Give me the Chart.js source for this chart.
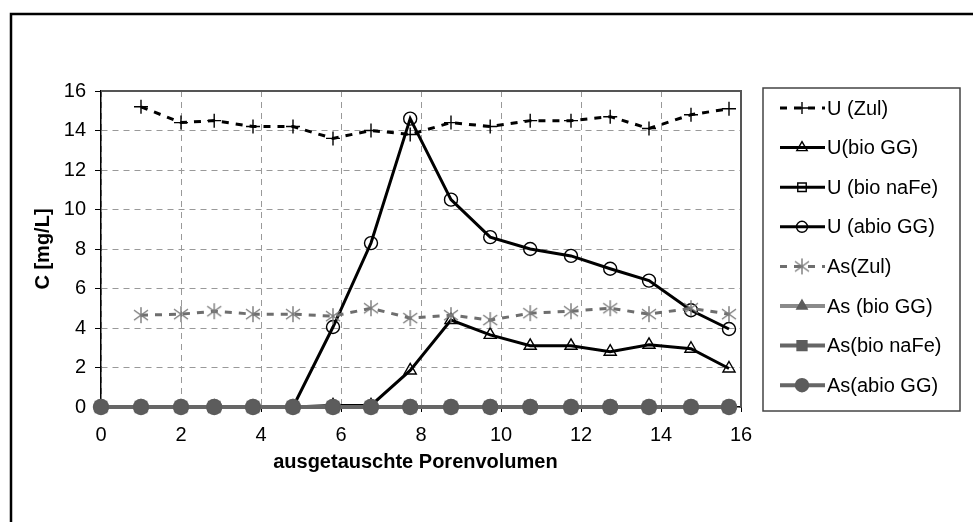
<!DOCTYPE html>
<html>
<head>
<meta charset="utf-8">
<script src="https://cdn.jsdelivr.net/npm/chart.js@4.4.0/dist/chart.umd.min.js"></script>
<style>
  html, body { margin: 0; padding: 0; background: #fff; }
  #wrap { width: 973px; height: 522px; }
</style>
</head>
<body>
<div id="wrap"><canvas id="c" width="973" height="522"></canvas></div>
<script>
// ausgetauschte Porenvolumen (x) und Konzentrationen C [mg/L]
const porenvolumen = [0, 1, 2, 2.83, 3.8, 4.8, 5.8, 6.75, 7.73, 8.75, 9.73, 10.73, 11.75, 12.73, 13.7, 14.75, 15.7];

const uZul      = [null, 15.2, 14.4, 14.5, 14.2, 14.2, 13.6, 14.0, 13.8, 14.4, 14.2, 14.5, 14.5, 14.7, 14.1, 14.8, 15.1];
const uBioGG    = [0, 0, 0, 0, 0, 0, 0.08, 0.08, 1.85, 4.4, 3.65, 3.1, 3.1, 2.8, 3.15, 2.95, 1.95];
const uBioNaFe  = [0, 0, 0, 0, 0, 0, 0, 0, 0, 0, 0, 0, 0, 0, 0, 0, 0];
const uAbioGG   = [0, 0, 0, 0, 0, 0, 4.05, 8.3, 14.6, 10.5, 8.6, 8.0, 7.65, 7.0, 6.4, 4.9, 3.95];
const asZul     = [null, 4.65, 4.7, 4.85, 4.7, 4.7, 4.6, 5.0, 4.5, 4.65, 4.4, 4.75, 4.85, 5.0, 4.7, 5.0, 4.7];
const asBioGG   = [0, 0, 0, 0, 0, 0, 0, 0, 0, 0, 0, 0, 0, 0, 0, 0, 0];
const asBioNaFe = [0, 0, 0, 0, 0, 0, 0, 0, 0, 0, 0, 0, 0, 0, 0, 0, 0];
const asAbioGG  = [0, 0, 0, 0, 0, 0, 0, 0, 0, 0, 0, 0, 0, 0, 0, 0, 0];

const xTicks = [0, 2, 4, 6, 8, 10, 12, 14, 16];
const yTicks = [0, 2, 4, 6, 8, 10, 12, 14, 16];

const FONT = "'Liberation Sans', Arial, sans-serif";
const FS = 20;

const pts = ys => porenvolumen.map((x, i) => ({ x, y: ys[i] })).filter(p => p.y !== null);

// asterisk marker (x plus vertical bar)
function starMarker(color) {
  const c = document.createElement('canvas');
  c.width = 18; c.height = 18;
  const g = c.getContext('2d');
  g.strokeStyle = color; g.lineWidth = 1.4;
  g.beginPath();
  g.moveTo(9, 1); g.lineTo(9, 17);
  g.moveTo(2, 4); g.lineTo(16, 14);
  g.moveTo(2, 14); g.lineTo(16, 4);
  g.stroke();
  return c;
}

const series = (label, ys, o) => Object.assign({
  label, data: pts(ys), showLine: true, tension: 0, clip: false,
  pointBorderWidth: 1.4, pointHoverRadius: 0
}, o);

const datasets = [
  series('U (Zul)', uZul, { borderColor: '#000', borderWidth: 3, borderDash: [7, 7],
    pointStyle: 'cross', pointRadius: 7, pointBorderColor: '#000', pointBackgroundColor: '#000', order: 8 }),
  series('U(bio GG)', uBioGG, { borderColor: '#000', borderWidth: 3,
    pointStyle: 'triangle', pointRadius: 7, pointBorderColor: '#000', pointBackgroundColor: 'rgba(0,0,0,0)', order: 7 }),
  series('U (bio naFe)', uBioNaFe, { borderColor: '#000', borderWidth: 3,
    pointStyle: 'rect', pointRadius: 7, pointBorderColor: '#000', pointBackgroundColor: 'rgba(0,0,0,0)', order: 6 }),
  series('U (abio GG)', uAbioGG, { borderColor: '#000', borderWidth: 3,
    pointStyle: 'circle', pointRadius: 6.5, pointBorderColor: '#000', pointBackgroundColor: 'rgba(0,0,0,0)', order: 5 }),
  series('As(Zul)', asZul, { borderColor: '#6e6e6e', borderWidth: 3, borderDash: [7, 7],
    pointStyle: starMarker('#7a7a7a'), pointRadius: 8, pointBorderColor: '#7a7a7a', pointBackgroundColor: '#7a7a7a', order: 4 }),
  series('As (bio GG)', asBioGG, { borderColor: '#8a8a8a', borderWidth: 4,
    pointStyle: 'triangle', pointRadius: 7, pointBorderColor: '#5c5c5c', pointBackgroundColor: '#5c5c5c', order: 3 }),
  series('As(bio naFe)', asBioNaFe, { borderColor: '#666', borderWidth: 4,
    pointStyle: 'rect', pointRadius: 8, pointBorderColor: '#5c5c5c', pointBackgroundColor: '#5c5c5c', order: 2 }),
  series('As(abio GG)', asAbioGG, { borderColor: '#666', borderWidth: 4,
    pointStyle: 'circle', pointRadius: 7.5, pointBorderColor: '#5c5c5c', pointBackgroundColor: '#5c5c5c', order: 1 })
];

// outer frame, plot frame and legend box
const framePlugin = {
  id: 'frames',
  beforeDatasetsDraw(chart) {
    const { ctx, chartArea: a } = chart;
    ctx.save();
    ctx.strokeStyle = '#555'; ctx.lineWidth = 2;
    ctx.beginPath();
    ctx.moveTo(a.left, a.top); ctx.lineTo(a.right, a.top); ctx.lineTo(a.right, a.bottom);
    ctx.stroke();
    ctx.restore();
  },
  afterDraw(chart) {
    const ctx = chart.ctx;
    ctx.save();
    ctx.strokeStyle = '#000'; ctx.lineWidth = 2.5;
    ctx.strokeRect(11, 14, 1100, 700);

    ctx.strokeStyle = '#444'; ctx.lineWidth = 1.5;
    ctx.strokeRect(763, 88, 197, 323);

    chart.data.datasets.forEach((ds, i) => {
      const y = 108 + i * 39.6;
      ctx.beginPath();
      ctx.setLineDash(ds.borderDash || []);
      ctx.lineWidth = ds.borderWidth; ctx.strokeStyle = ds.borderColor;
      ctx.moveTo(780, y); ctx.lineTo(825, y); ctx.stroke();
      ctx.setLineDash([]);
      ctx.fillStyle = ds.pointBackgroundColor; ctx.strokeStyle = ds.pointBorderColor;
      ctx.lineWidth = ds.pointBorderWidth;
      Chart.helpers.drawPoint(ctx, { pointStyle: ds.pointStyle, radius: ds.pointRadius - 1, rotation: 0, borderWidth: ds.pointBorderWidth }, 802, y);
      ctx.fillStyle = '#000';
      ctx.font = FS + 'px ' + FONT; ctx.textBaseline = 'middle'; ctx.textAlign = 'left';
      ctx.fillText(ds.label, 827, y + 1);
    });
    ctx.restore();
  }
};

new Chart(document.getElementById('c'), {
  type: 'scatter',
  data: { datasets },
  options: {
    responsive: false, animation: false, devicePixelRatio: 1,
    layout: { padding: { top: 91, right: 232, left: 0, bottom: 0 } },
    plugins: { legend: { display: false }, tooltip: { enabled: false } },
    scales: {
      x: {
        type: 'linear', min: 0, max: 16,
        afterFit: s => { s.height = 115; },
        afterBuildTicks: s => { s.ticks = xTicks.map(v => ({ value: v })); },
        grid: { color: '#999', lineWidth: 1, tickColor: '#000', tickLength: 5 },
        border: { color: '#000', width: 1.5, dash: [6, 5] },
        ticks: { color: '#000', padding: 11, maxRotation: 0, font: { family: FONT, size: FS } },
        title: { display: true, text: 'ausgetauschte Porenvolumen  ', color: '#000',
          font: { family: FONT, size: FS, weight: 'bold' }, padding: { top: 0, bottom: 48 } }
      },
      y: {
        type: 'linear', min: 0, max: 16,
        afterFit: s => { s.width = 101; },
        afterBuildTicks: s => { s.ticks = yTicks.map(v => ({ value: v })); },
        grid: { color: '#999', lineWidth: 1, tickColor: '#000', tickLength: 6 },
        border: { color: '#000', width: 1.5, dash: [6, 5] },
        ticks: { color: '#000', padding: 9, font: { family: FONT, size: FS } },
        title: { display: true, text: 'C [mg/L]', color: '#000',
          font: { family: FONT, size: FS, weight: 'bold' }, padding: { top: 31, bottom: 0 } }
      }
    }
  },
  plugins: [framePlugin]
});
</script>
</body>
</html>
